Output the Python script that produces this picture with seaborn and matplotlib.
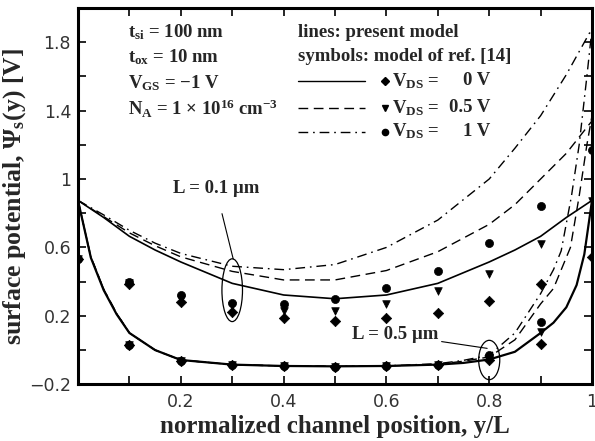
import matplotlib
matplotlib.use("Agg")
import matplotlib.pyplot as plt
from matplotlib.patches import Ellipse
import seaborn as sns
import pandas as pd

# ---- present model, L = 0.1 um ----
x_short = [0, 0.05, 0.1, 0.15, 0.2, 0.3, 0.4, 0.5, 0.6, 0.7, 0.8, 0.85, 0.9, 0.95, 1.0]
short_vds0 = [0.875, 0.775, 0.665, 0.585, 0.515, 0.39, 0.322, 0.30, 0.322, 0.39, 0.515, 0.585, 0.665, 0.775, 0.875]
short_vds05 = [0.875, 0.78, 0.685, 0.61, 0.545, 0.46, 0.41, 0.41, 0.465, 0.575, 0.735, 0.85, 1.00, 1.15, 1.34]
short_vds1 = [0.875, 0.79, 0.70, 0.625, 0.565, 0.49, 0.47, 0.50, 0.60, 0.76, 1.00, 1.18, 1.37, 1.61, 1.88]

# ---- present model, L = 0.5 um ----
x_long0 = [0, 0.025, 0.05, 0.075, 0.1, 0.15, 0.2, 0.3, 0.4, 0.5, 0.6, 0.7, 0.75, 0.8, 0.85, 0.9, 0.925, 0.95, 0.97, 0.985, 1.0]
long_vds0 = [0.875, 0.54, 0.35, 0.21, 0.10, 0.0, -0.058, -0.085, -0.093, -0.095, -0.093, -0.085, -0.075, -0.055, -0.01, 0.10, 0.16, 0.25, 0.38, 0.56, 0.875]
x_long05 = [0, 0.025, 0.05, 0.075, 0.1, 0.15, 0.2, 0.3, 0.4, 0.5, 0.6, 0.7, 0.75, 0.8, 0.85, 0.9, 0.925, 0.958, 0.975, 0.99, 1.0]
long_vds05 = [0.875, 0.545, 0.355, 0.215, 0.10, 0.0, -0.058, -0.085, -0.093, -0.095, -0.093, -0.083, -0.065, -0.04, 0.06, 0.27, 0.36, 0.60, 0.90, 1.20, 1.37]
x_long1 = [0, 0.025, 0.05, 0.075, 0.1, 0.15, 0.2, 0.3, 0.4, 0.5, 0.6, 0.7, 0.75, 0.8, 0.85, 0.9, 0.925, 0.94, 0.96, 0.975, 0.99, 1.0]
long_vds1 = [0.875, 0.545, 0.355, 0.215, 0.10, 0.0, -0.058, -0.085, -0.093, -0.095, -0.092, -0.08, -0.06, -0.03, 0.10, 0.33, 0.47, 0.58, 0.90, 1.20, 1.60, 1.88]

# ---- model of ref. [14] ----
x_sym_short = [0, 0.1, 0.2, 0.3, 0.4, 0.5, 0.6, 0.7, 0.8, 0.9, 1.0]
sym_short_vds0 = [0.53, 0.385, 0.282, 0.223, 0.185, 0.171, 0.185, 0.214, 0.288, 0.385, 0.544]
sym_short_vds05 = [0.53, 0.39, 0.30, 0.256, 0.229, 0.229, 0.268, 0.344, 0.447, 0.618, 0.87]
sym_short_vds1 = [0.53, 0.40, 0.321, 0.278, 0.268, 0.297, 0.363, 0.462, 0.626, 0.845, 1.17]

x_sym_long = [0.1, 0.2, 0.3, 0.4, 0.5, 0.6, 0.7, 0.8, 0.9]
sym_long_vds0 = [0.029, -0.064, -0.087, -0.093, -0.097, -0.094, -0.087, -0.058, 0.035]
sym_long_vds05 = [0.029, -0.064, -0.087, -0.093, -0.097, -0.094, -0.087, -0.045, 0.107]
sym_long_vds1 = [0.029, -0.064, -0.087, -0.093, -0.097, -0.094, -0.087, -0.03, 0.165]

x_tick_pos = [0.2, 0.4, 0.6, 0.8, 1.0]
x_tick_text = ["0.2", "0.4", "0.6", "0.8", "1"]
y_tick_pos = [-0.2, 0.2, 0.6, 1.0, 1.4, 1.8]
y_tick_text = ["\u22120.2", "0.2", "0.6", "1", "1.4", "1.8"]

sns.set_theme(style="ticks")
plt.rcParams["font.family"] = ["Liberation Serif", "DejaVu Serif"]
plt.rcParams["font.weight"] = "bold"
plt.rcParams["mathtext.fontset"] = "custom"
plt.rcParams["mathtext.rm"] = "Liberation Serif:bold"
plt.rcParams["mathtext.it"] = "Liberation Serif:bold"
plt.rcParams["mathtext.bf"] = "Liberation Serif:bold"

fig = plt.figure(figsize=(5.95, 4.41), dpi=100)
ax = fig.add_axes([0.1311, 0.1286, 0.8639, 0.8534])

SOLID = "-"
DASH = (0, (7, 4))
DASHDOT = (0, (7, 3.5, 1.2, 3.5))

def curve(xs, ys, ls, lw):
    df = pd.DataFrame({"x": xs, "y": ys})
    sns.lineplot(data=df, x="x", y="y", ax=ax, color="black", linewidth=lw,
                 linestyle=ls, estimator=None, sort=False, legend=False)

curve(x_short, short_vds0, SOLID, 1.2)
curve(x_short, short_vds05, DASH, 1.0)
curve(x_short, short_vds1, DASHDOT, 1.0)
curve(x_long0, long_vds0, SOLID, 1.6)
curve(x_long05, long_vds05, DASH, 1.0)
curve(x_long1, long_vds1, DASHDOT, 1.0)

def symbols(xs, ys, marker, size):
    sns.scatterplot(x=xs, y=ys, ax=ax, marker=marker, s=size, color="black",
                    edgecolor="black", linewidth=0.5, clip_on=True, legend=False, zorder=3)

symbols(x_sym_short, sym_short_vds0, "D", 28)
symbols(x_sym_short, sym_short_vds05, "v", 30)
symbols(x_sym_short, sym_short_vds1, "o", 34)
symbols(x_sym_long, sym_long_vds0, "D", 28)
symbols(x_sym_long, sym_long_vds05, "v", 30)
symbols(x_sym_long, sym_long_vds1, "o", 34)

ax.set_xlim(0, 1.0)
ax.set_ylim(-0.2, 2.0)

tick_font = dict(family="DejaVu Sans", weight="normal", size=12.5, color="#333333")
ax.set_xticks(x_tick_pos, labels=x_tick_text, **tick_font)
ax.set_xticks([0.1, 0.3, 0.5, 0.7, 0.9], minor=True)
ax.set_yticks(y_tick_pos, labels=y_tick_text, **tick_font)
ax.set_yticks([0.0, 0.4, 0.8, 1.2, 1.6], minor=True)
ax.tick_params(which="both", direction="in", length=6, width=1.2, top=True, right=True,
               color="black")
ax.tick_params(axis="x", which="major", pad=6)
ax.tick_params(axis="y", which="major", pad=5)
for side in ["left", "bottom", "top", "right"]:
    ax.spines[side].set_linewidth(2.2)
    ax.spines[side].set_color("black")

ax.set_xlabel("normalized channel position, y/L", fontsize=18, fontweight="bold", labelpad=3)
ax.set_ylabel(r"surface potential, $\Psi_{s}$(y) [V]", fontsize=18.5, fontweight="bold", labelpad=1)

# device parameters
txt = dict(fontsize=13.5, fontweight="bold", va="center", ha="left")
ax.text(0.097, 1.857, r"t$_{si}$ = 100 nm", **txt)
ax.text(0.097, 1.714, r"t$_{ox}$ = 10 nm", **txt)
ax.text(0.097, 1.560, "V$_{GS}$ = \u22121 V", **txt)
ax.text(0.097, 1.410, "N$_{A}$ = 1 \u00d7 10$^{16}$ cm$^{-3}$", **txt)

# key
ax.text(0.428, 1.857, "lines: present model", **txt)
ax.text(0.428, 1.714, "symbols: model of ref. [14]", **txt)
key_rows = [(1.574, SOLID, "D", "0 V"), (1.417, DASH, "v", "0.5 V"), (1.277, DASHDOT, "o", "1 V")]
for yk, ls, mk, val in key_rows:
    ax.plot([0.428, 0.558], [yk, yk], color="black", lw=1.0, linestyle=ls)
    ax.plot([0.597], [yk], marker=mk, color="black", ms=4.5, linestyle="none")
    ax.text(0.611, yk, "V$_{DS}$ =", **txt)
    ax.text(0.802, yk, val, fontsize=13.5, fontweight="bold", va="center", ha="right")

# channel-length callouts
ax.add_patch(Ellipse((0.30, 0.35), 0.04, 0.367, fill=False, edgecolor="black", lw=0.9))
ax.annotate("L = 0.1 \u00b5m", xy=(0.302, 0.532), xytext=(0.268, 0.945),
            fontsize=13.5, fontweight="bold", ha="center", va="center",
            arrowprops=dict(arrowstyle="-", color="black", lw=0.8, shrinkA=10, shrinkB=0))
ax.add_patch(Ellipse((0.80, -0.058), 0.041, 0.23, fill=False, edgecolor="black", lw=0.9))
ax.annotate("L = 0.5 \u00b5m", xy=(0.796, 0.01), xytext=(0.617, 0.09),
            fontsize=13.5, fontweight="bold", ha="center", va="center",
            arrowprops=dict(arrowstyle="-", color="black", lw=0.8, shrinkA=45, shrinkB=0))

fig.savefig("out.png", dpi=100)
